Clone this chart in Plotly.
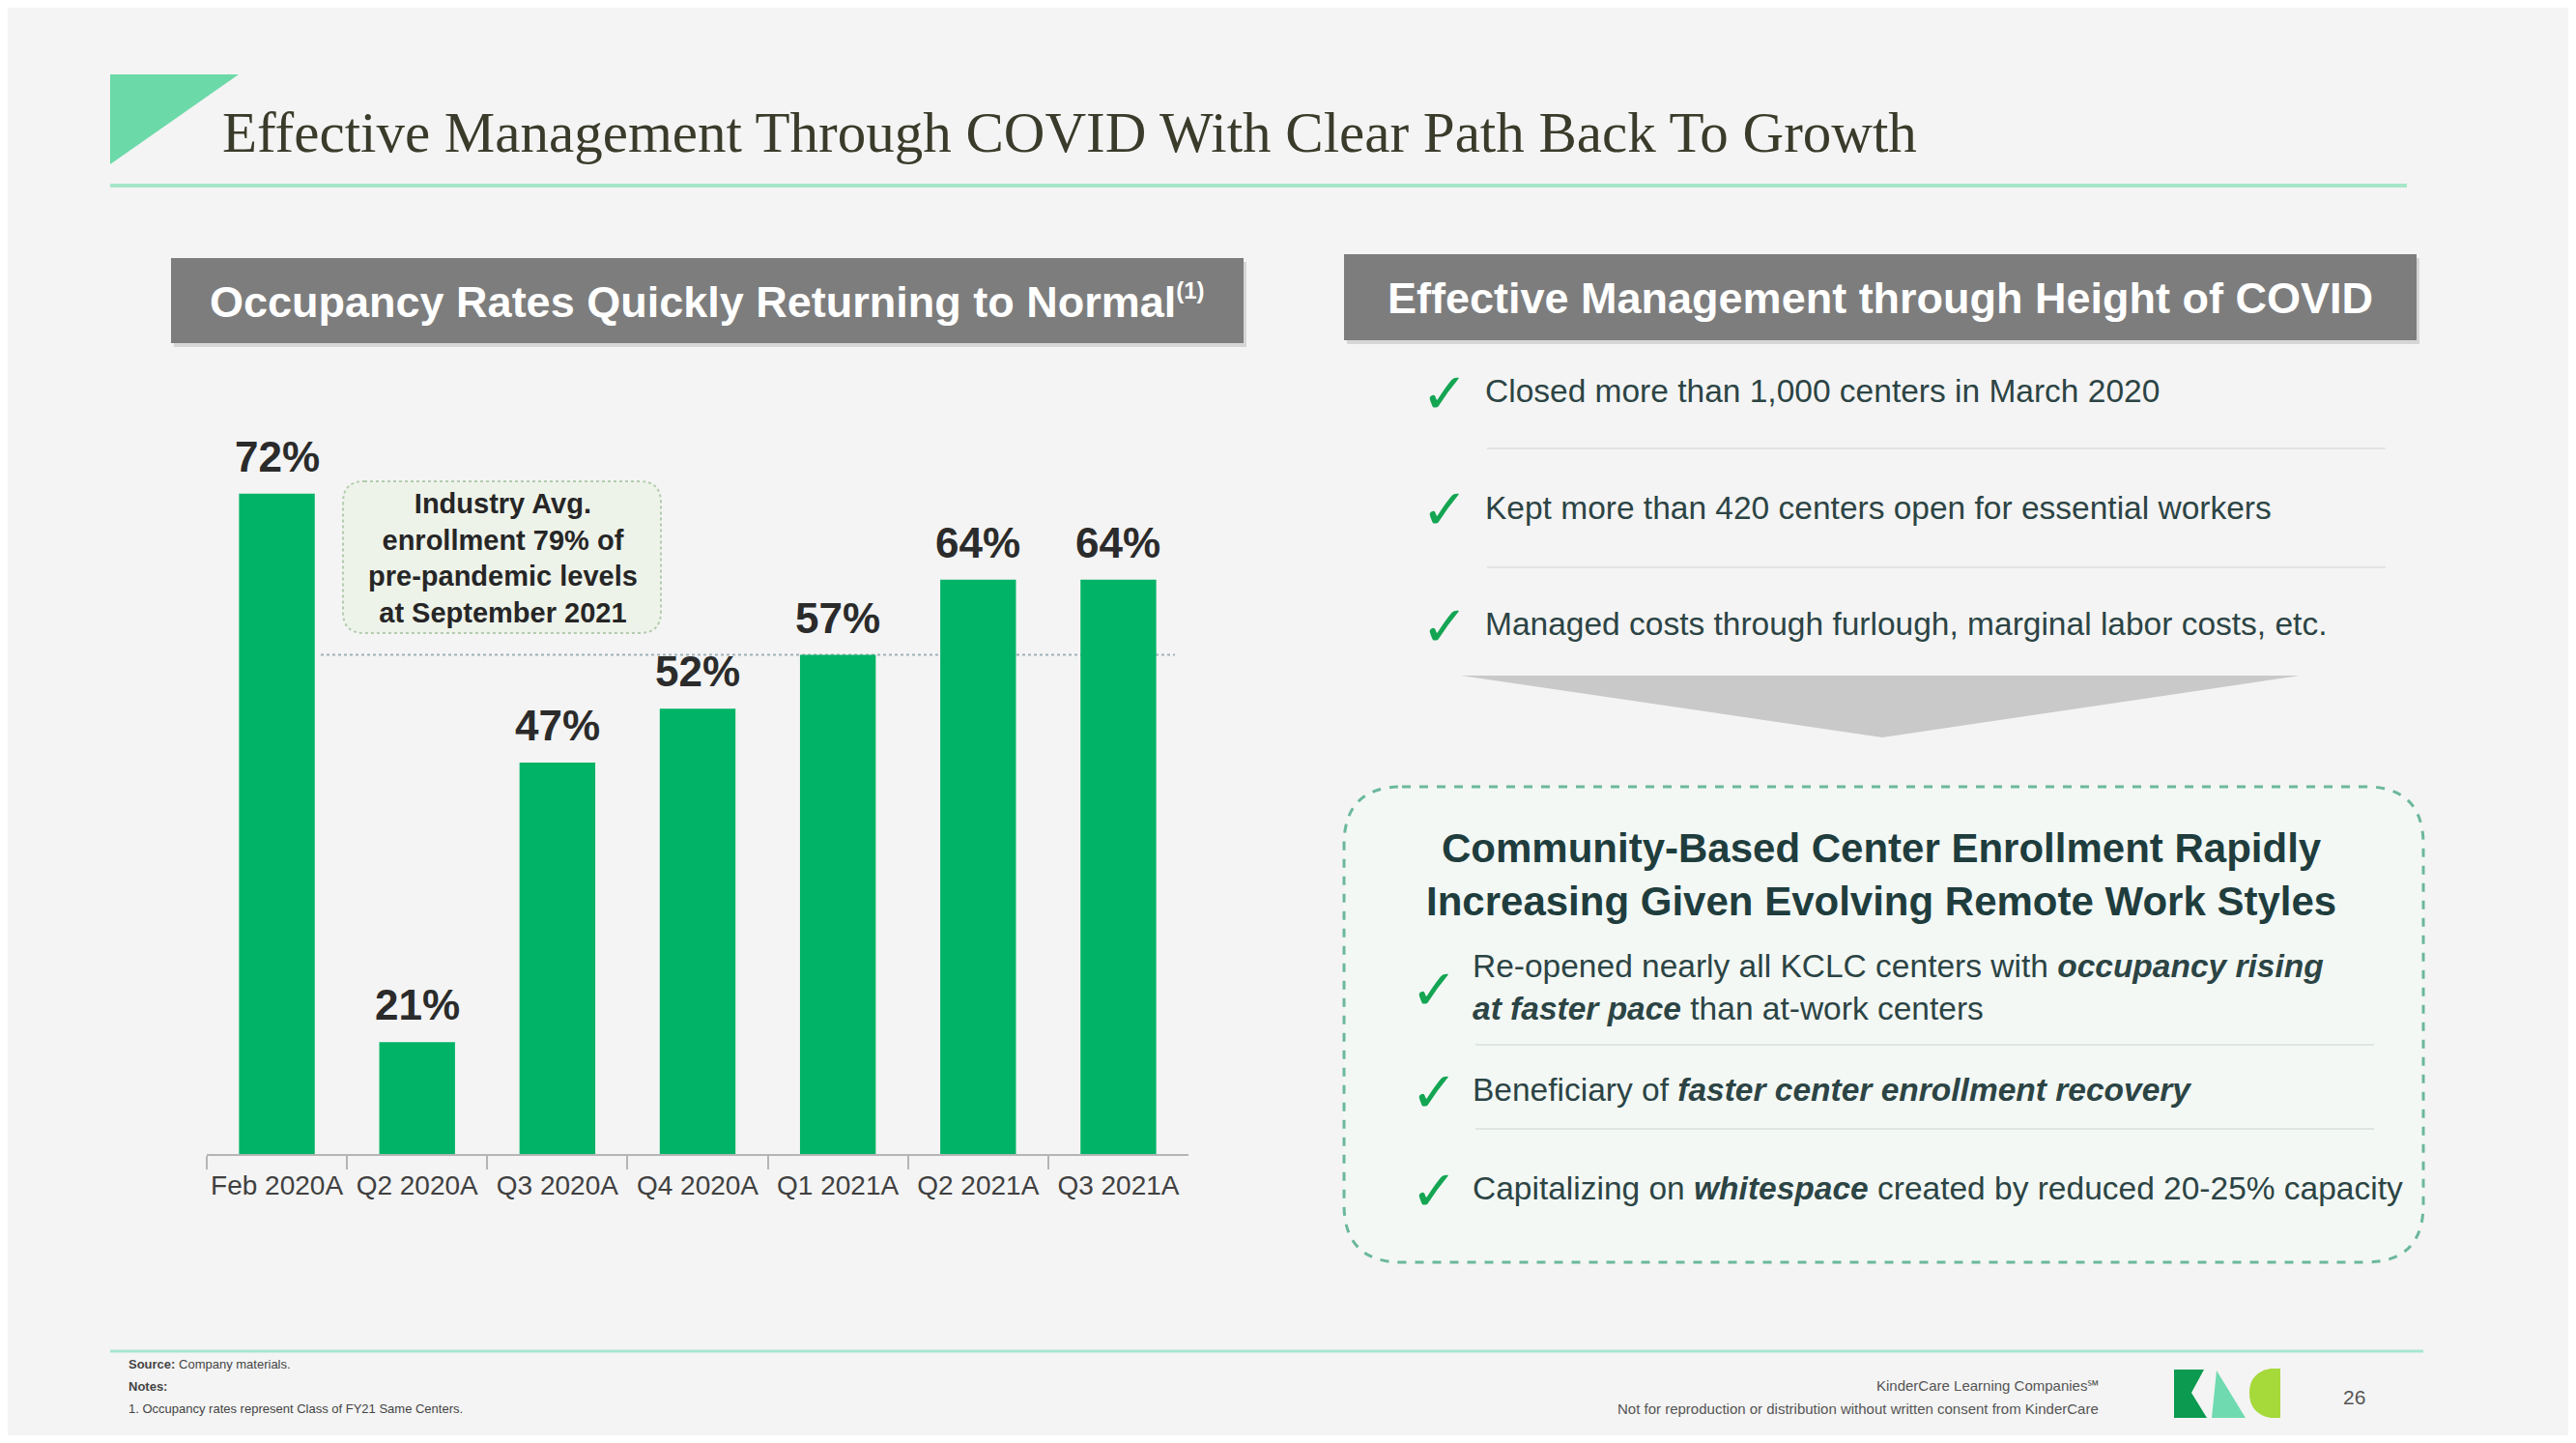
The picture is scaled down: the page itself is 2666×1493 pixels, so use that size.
import plotly.graph_objects as go

# ---------------- data ----------------
categories = ["Feb 2020A", "Q2 2020A", "Q3 2020A", "Q4 2020A", "Q1 2021A", "Q2 2021A", "Q3 2021A"]
occupancy = [72, 21, 47, 52, 57, 64, 64]
industry_note = ["Industry Avg.", "enrollment 79% of", "pre-pandemic levels", "at September 2021"]

title_text = "Effective Management Through COVID With Clear Path Back To Growth"
left_header = "Occupancy Rates Quickly Returning to Normal"
right_header = "Effective Management through Height of COVID"
covid_bullets = [
    "Closed more than 1,000 centers in March 2020",
    "Kept more than 420 centers open for essential workers",
    "Managed costs through furlough, marginal labor costs, etc.",
]
box_title = ["Community-Based Center Enrollment Rapidly", "Increasing Given Evolving Remote Work Styles"]
box_bullets = [
    "Re-opened nearly all KCLC centers with <b><i>occupancy rising</i></b><br><b><i>at faster pace</i></b> than at-work centers",
    "Beneficiary of <b><i>faster center enrollment recovery</i></b>",
    "Capitalizing on <b><i>whitespace</i></b> created by reduced 20-25% capacity",
]

# ---------------- geometry helpers ----------------
W, H = 2666, 1493
OFF = 8                      # page body margin
FW, FH = W - 2 * OFF, H - 2 * OFF
def X(x): return (x - OFF) / FW
def Y(y): return 1 - (y - OFF) / FH

def P(x, y): return f"{X(x):.5f},{Y(y):.5f}"

def poly(points):
    return "M " + " L ".join(P(x, y) for x, y in points) + " Z"

def rrect(x0, y0, x1, y1, r):
    return (f"M {P(x0+r,y0)} L {P(x1-r,y0)} Q {P(x1,y0)} {P(x1,y0+r)} "
            f"L {P(x1,y1-r)} Q {P(x1,y1)} {P(x1-r,y1)} L {P(x0+r,y1)} "
            f"Q {P(x0,y1)} {P(x0,y1-r)} L {P(x0,y0+r)} Q {P(x0,y0)} {P(x0+r,y0)} Z")

SANS = "Liberation Sans, Arial, sans-serif"
BAR_GREEN = "#00b366"
CHECK_GREEN = "#14a553"
TEXT_DARK = "#2c4444"

fig = go.Figure()
fig.add_trace(go.Bar(
    x=categories, y=occupancy, marker=dict(color=BAR_GREEN, line=dict(width=0)),
    hoverinfo="x+y", showlegend=False,
))

shapes = []
ann = []

# Title decoration
shapes.append(dict(type="path", xref="paper", yref="paper", path=poly([(114, 77), (247, 77), (114, 170)]),
                   fillcolor="#6cd9a9", line=dict(width=0)))
shapes.append(dict(type="line", xref="paper", yref="paper", x0=X(114), x1=X(2491), y0=Y(192), y1=Y(192),
                   line=dict(color="#a6e6c9", width=4)))
ann.append(dict(text=title_text, x=X(228), y=Y(137), xref="paper", yref="paper", xanchor="left", yanchor="middle",
                showarrow=False, font=dict(family="Liberation Serif, Times New Roman, serif", size=59, color="#3b3b2b")))

# Header boxes
for (x0, y0, x1, y1, txt) in [(177, 267, 1287, 355, left_header + "<sup><span style='font-size:24px'>(1)</span></sup>"),
                              (1391, 263, 2501, 352, right_header)]:
    shapes.append(dict(type="rect", xref="paper", yref="paper", x0=X(x0 + 3), x1=X(x1 + 3), y0=Y(y0 + 4), y1=Y(y1 + 4),
                       fillcolor="rgba(0,0,0,0.12)", line=dict(width=0), layer="below"))
    shapes.append(dict(type="rect", xref="paper", yref="paper", x0=X(x0), x1=X(x1), y0=Y(y0), y1=Y(y1),
                       fillcolor="#7d7d7d", line=dict(width=0), layer="below"))
    ann.append(dict(text=f"<b>{txt}</b>", x=X((x0 + x1) / 2), y=Y((y0 + y1) / 2 + 1), xref="paper", yref="paper",
                    xanchor="center", yanchor="middle", showarrow=False,
                    font=dict(family=SANS, size=45, color="white")))

# Chart: industry note box
shapes.append(dict(type="path", xref="paper", yref="paper", path=rrect(355, 498, 684, 655, 22),
                   fillcolor="#eef3ea", line=dict(color="#b3ccae", width=2, dash="dot"), layer="below"))
ann.append(dict(text="<b>" + "<br>".join(industry_note) + "</b>", x=X(520), y=Y(577), xref="paper", yref="paper",
                xanchor="center", yanchor="middle", showarrow=False,
                font=dict(family=SANS, size=29, color="#262626")))

# Dotted reference line at Q1 2021A level
shapes.append(dict(type="line", xref="paper", yref="y", x0=X(332), x1=X(1216),
                   y0=occupancy[4], y1=occupancy[4], line=dict(color="#9fb0b8", width=2, dash="dot"), layer="below"))

# Value labels
for c, v in zip(categories, occupancy):
    ann.append(dict(text=f"<b>{v}%</b>", x=c, y=v, xref="x", yref="y", xanchor="center", yanchor="bottom",
                    yshift=12, showarrow=False, font=dict(family=SANS, size=44, color="#2b2b2b")))

# Right panel: covid bullets
for i, (txt, yc) in enumerate(zip(covid_bullets, [405, 525, 646])):
    ann.append(dict(text="✓", x=X(1495), y=Y(yc + 2), xref="paper", yref="paper", xanchor="center", yanchor="middle",
                    showarrow=False, font=dict(family="DejaVu Sans", size=58, color=CHECK_GREEN)))
    ann.append(dict(text=txt, x=X(1535), y=Y(yc), xref="paper", yref="paper", xanchor="left", yanchor="middle",
                    showarrow=False, font=dict(family=SANS, size=33.5, color=TEXT_DARK)))
for ys in [464, 587]:
    shapes.append(dict(type="line", xref="paper", yref="paper", x0=X(1539), x1=X(2469), y0=Y(ys), y1=Y(ys),
                       line=dict(color="#e3e3e3", width=2)))

# Grey down arrow
shapes.append(dict(type="path", xref="paper", yref="paper",
                   path=poly([(1512, 699), (2380, 699), (1948, 763)]),
                   fillcolor="#c9c9c9", line=dict(width=0)))

# Dashed rounded box
shapes.append(dict(type="path", xref="paper", yref="paper", path=rrect(1391, 814, 2508, 1306, 60),
                   fillcolor="#f3f8f5", line=dict(color="#6bb89c", width=3, dash="dash"), layer="below"))
ann.append(dict(text="<b>" + "<br>".join(box_title) + "</b>", x=X(1947), y=Y(905), xref="paper", yref="paper",
                xanchor="center", yanchor="middle", showarrow=False,
                font=dict(family=SANS, size=42, color="#1f3d3d")))
for txt, yc, ck in zip(box_bullets, [1021, 1127, 1229], [1022, 1128, 1230]):
    ann.append(dict(text="✓", x=X(1484), y=Y(ck + 2), xref="paper", yref="paper", xanchor="center", yanchor="middle",
                    showarrow=False, font=dict(family="DejaVu Sans", size=58, color=CHECK_GREEN)))
    ann.append(dict(text=txt, x=X(1522), y=Y(yc), xref="paper", yref="paper", xanchor="left", yanchor="middle",
                    align="left", showarrow=False, font=dict(family=SANS, size=33.5, color=TEXT_DARK)))
for ys in [1081, 1168]:
    shapes.append(dict(type="line", xref="paper", yref="paper", x0=X(1527), x1=X(2457), y0=Y(ys), y1=Y(ys),
                       line=dict(color="#dfe5e1", width=2)))

# Footer
shapes.append(dict(type="line", xref="paper", yref="paper", x0=X(114), x1=X(2508), y0=Y(1398), y1=Y(1398),
                   line=dict(color="#a8e6cf", width=3)))
for txt, yc in [("<b>Source:</b> Company materials.", 1411), ("<b>Notes:</b>", 1434),
                ("1. Occupancy rates represent Class of FY21 Same Centers.", 1457)]:
    ann.append(dict(text=txt, x=X(131), y=Y(yc), xref="paper", yref="paper", xanchor="left", yanchor="middle",
                    showarrow=False, font=dict(family=SANS, size=13, color="#444444")))
for txt, yc in [("KinderCare Learning Companies℠", 1433),
                ("Not for reproduction or distribution without written consent from KinderCare", 1457)]:
    ann.append(dict(text=txt, x=X(2174), y=Y(yc), xref="paper", yref="paper", xanchor="right", yanchor="middle",
                    showarrow=False, font=dict(family=SANS, size=15, color="#555555")))
ann.append(dict(text="26", x=X(2436), y=Y(1445), xref="paper", yref="paper", xanchor="center", yanchor="middle",
                showarrow=False, font=dict(family=SANS, size=21, color="#555555")))

# Logo
shapes.append(dict(type="path", xref="paper", yref="paper",
                   path=poly([(2250, 1417), (2281, 1417), (2268, 1441), (2284, 1467), (2250, 1467)]),
                   fillcolor="#0b9a4f", line=dict(width=0)))
shapes.append(dict(type="path", xref="paper", yref="paper",
                   path=poly([(2294, 1418), (2324, 1467), (2289, 1467)]),
                   fillcolor="#6fdab0", line=dict(width=0)))
shapes.append(dict(type="path", xref="paper", yref="paper",
                   path=f"M {P(2360,1416)} L {P(2350,1416)} Q {P(2328,1420)} {P(2328,1441)} Q {P(2328,1463)} {P(2350,1467)} L {P(2360,1467)} Z",
                   fillcolor="#a6d93a", line=dict(width=0)))

fig.update_layout(
    width=FW, height=FH, autosize=False,
    margin=dict(l=0, r=0, t=0, b=0),
    paper_bgcolor="#f4f4f4", plot_bgcolor="rgba(0,0,0,0)",
    bargap=0.46, showlegend=False,
    shapes=shapes, annotations=ann,
    xaxis=dict(domain=[X(214), X(1230)], type="category", showline=True, linecolor="#b5b5b5", linewidth=2,
               ticks="outside", tickson="boundaries", ticklen=14, tickwidth=2, tickcolor="#b5b5b5",
               ticklabelstandoff=6,
               tickangle=0, tickfont=dict(family=SANS, size=28, color="#404040"), showgrid=False, zeroline=False,
               fixedrange=True),
    yaxis=dict(domain=[Y(1194), Y(421.6)], range=[10.6, 80], visible=False, showgrid=False, zeroline=False,
               fixedrange=True),
)

fig.write_html("out.html")
